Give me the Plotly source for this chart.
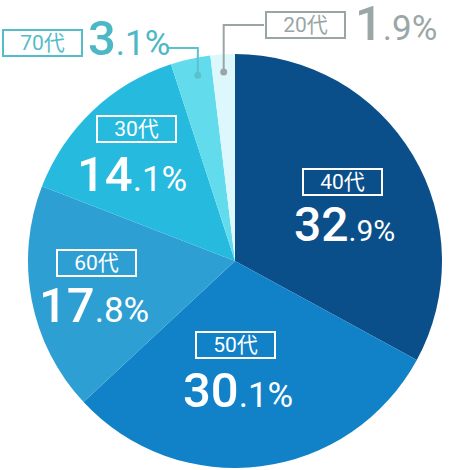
import math
import plotly.graph_objects as go

# ---- data ----
categories = ["40代", "50代", "60代", "30代", "70代", "20代"]
shares = [32.9, 30.1, 17.8, 14.1, 3.1, 1.9]
colors = ["#0b4f8a", "#1282c8", "#2e9fd3", "#27badf", "#62dced", "#ddf8fc"]

W, H = 472, 470
CX, CY, R = 235, 261, 207   # pie centre / radius in px


def px(x):
    return x / W


def py(y):
    return 1 - y / H


fig = go.Figure(go.Pie(
    labels=categories, values=shares, sort=False, direction="clockwise",
    rotation=0, marker=dict(colors=colors, line=dict(width=0)),
    textinfo="none", hoverinfo="skip", showlegend=False,
    domain=dict(x=[px(CX - R), px(CX + R)], y=[py(CY + R), py(CY - R)]),
))

FONT = "Roboto, 'Noto Sans CJK JP', sans-serif"
NUMFONT = "Roboto, sans-serif"


def pct_text(v, big, small):
    s = f"{v:.1f}"
    a, b = s.split(".")
    return (f'<span style="font-size:{big}px;font-weight:500">{a}</span>'
            f'<span style="font-size:{small}px">.{b}%</span>')


# box centre, percentage glyph centre, (big, small) font sizes
inside = {
    "40代": ((342, 182), (344, 224), (48, 30)),
    "50代": ((235, 345), (238, 390), (49, 35)),
    "60代": ((96, 263), (94, 305), (49, 35)),
    "30代": ((136, 129), (132, 174), (49, 35)),
}
outside = {
    "70代": ((42, 43), (129, 39), (49, 35), "#55bcc9", "#4cb7c5", "#5cc1cd", 0.6),
    "20代": ((305, 25), (396, 23), (49, 35), "#9aa6a6", "#9ba7a7", "#9aa6a6", 0.5),
}

anns = []
shapes = []
total = sum(shares)
cum = 0
starts = {}
for c, v in zip(categories, shares):
    starts[c] = cum / total
    cum += v

for c, v in zip(categories, shares):
    if c in inside:
        (bx, by), (tx, ty), (bs, ss) = inside[c]
        tc = bc = fc = "white"
    else:
        (bx, by), (tx, ty), (bs, ss), tc, fc, lc, _ = outside[c]
        bc = tc
    anns.append(dict(x=px(bx), y=py(by), xref="paper", yref="paper",
                     text=c, showarrow=False, xanchor="center", yanchor="middle",
                     font=dict(family=FONT, size=21, color=tc),
                     bordercolor=bc, borderwidth=2, borderpad=0,
                     width=77, height=24,
                     bgcolor="rgba(255,255,255,0)" if c in inside else "white"))
    anns.append(dict(x=px(tx), y=py(ty), xref="paper", yref="paper",
                     text=pct_text(v, bs, ss), showarrow=False,
                     xanchor="center", yanchor="middle",
                     font=dict(family=NUMFONT, size=40, color=fc)))

for c, v in zip(categories, shares):
    if c not in outside:
        continue
    (bx, by), (tx, ty), _, tc, fc, lc, frac = outside[c]
    ang = (starts[c] + frac * v / total) * 2 * math.pi
    rr = 0.915 * R
    dx = CX + rr * math.sin(ang)
    dy = CY - rr * math.cos(ang)
    if c == "70代":
        hy, hx0 = 48, 168
    else:
        hy, hx0 = 25, 264
    shapes.append(dict(type="path", xref="paper", yref="paper",
                       path=f"M {px(hx0)},{py(hy)} L {px(dx)},{py(hy)} L {px(dx)},{py(dy)}",
                       line=dict(color=lc, width=2)))
    shapes.append(dict(type="circle", xref="paper", yref="paper",
                       x0=px(dx - 3.5), x1=px(dx + 3.5), y0=py(dy + 3.5), y1=py(dy - 3.5),
                       fillcolor=lc, line=dict(width=0)))

fig.update_layout(width=W, height=H, margin=dict(l=0, r=0, t=0, b=0),
                  paper_bgcolor="white", plot_bgcolor="white",
                  annotations=anns, shapes=shapes)
fig.write_html("out.html", config={"displayModeBar": False, "staticPlot": True},
               post_script="document.body.style.margin='0px';document.body.style.overflow='hidden';")
